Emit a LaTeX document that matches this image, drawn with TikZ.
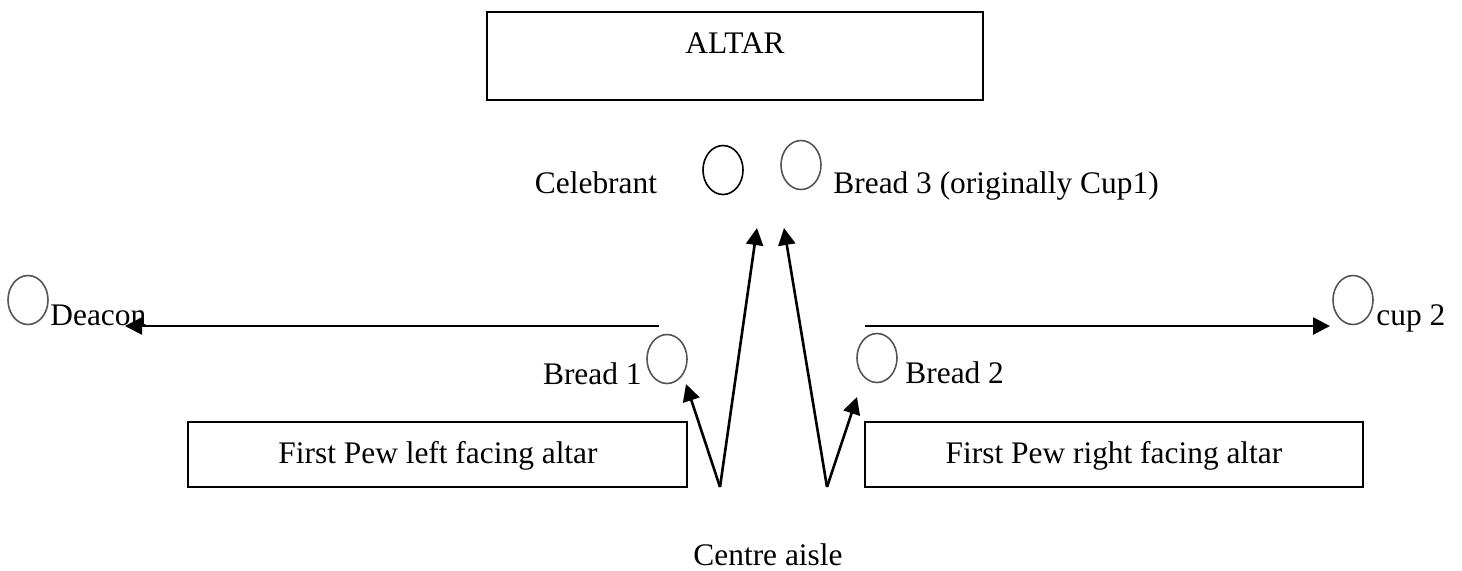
\documentclass[tikz,border=0pt]{standalone}
\usepackage{fontspec}
\setmainfont{Liberation Serif}
\usepackage{tikz}
\usetikzlibrary{arrows.meta,shapes.geometric}
\definecolor{ink}{HTML}{000000}
\definecolor{ring}{HTML}{555555}
\tikzset{
  box/.style={draw=ink, line width=1.1pt, inner sep=0pt},
  spot/.style={ellipse, draw=ring, line width=0.8pt, minimum width=20pt, minimum height=24.5pt, inner sep=0pt},
  lab/.style={text=ink, inner sep=0pt, font=\fontsize{15.7}{19}\selectfont},
  walk/.style={draw=ink, line width=1.3pt, -{Triangle[length=8.5pt,width=8.5pt]}}
}
\begin{document}
\begin{tikzpicture}[x=0.5pt,y=-0.5pt]
  \useasboundingbox (0,0) rectangle (1462,570);
  % altar
  \node[box, minimum width=248pt, minimum height=44pt] (altar) at (735,56) {};
  \node[lab, anchor=base] (altartxt) at (735,53) {ALTAR};
  % people at the front
  \node[spot, draw=ink] (celebrant) at (723,170) {};
  \node[lab, anchor=base] (celebranttxt) at (596,193) {Celebrant};
  \node[spot] (bread3) at (801,165) {};
  \node[lab, anchor=base west] (bread3txt) at (833,193) {Bread 3 (originally Cup1)};
  \node[spot] (deacon) at (28,300) {};
  \node[lab, anchor=base west] (deacontxt) at (50,325) {Deacon};
  \node[spot] (cup2) at (1353,300) {};
  \node[lab, anchor=base west] (cup2txt) at (1376,325) {cup 2};
  \node[spot] (bread1) at (667,359) {};
  \node[lab, anchor=base east] (bread1txt) at (642,384) {Bread 1};
  \node[spot] (bread2) at (877,358) {};
  \node[lab, anchor=base west] (bread2txt) at (905,383) {Bread 2};
  % pews
  \node[box, minimum width=249.5pt, minimum height=32.5pt] (pewleft) at (437.5,454.5) {};
  \node[lab, anchor=base] (pewlefttxt) at (438,463) {First Pew left facing altar};
  \node[box, minimum width=249pt, minimum height=32.5pt] (pewright) at (1114,454.5) {};
  \node[lab, anchor=base] (pewrighttxt) at (1114,463) {First Pew right facing altar};
  \node[lab, anchor=base] (aisle) at (768,565) {Centre aisle};
  % movement
  \coordinate (footL) at (720,487);
  \coordinate (footR) at (827,487);
  \coordinate (upL) at (757,228);
  \coordinate (upR) at (784,228);
  \coordinate (toB1) at (686,384);
  \coordinate (toB2) at (857,397);
  \coordinate (fromB1) at (659,326);
  \coordinate (toDeacon) at (125,326);
  \coordinate (fromB2) at (865,326);
  \coordinate (toCup2) at (1330,326);
  \draw[walk] (footL) -- (upL);
  \draw[walk] (footL) -- (toB1);
  \draw[walk] (footR) -- (upR);
  \draw[walk] (footR) -- (toB2);
  \draw[walk] (fromB1) -- (toDeacon);
  \draw[walk] (fromB2) -- (toCup2);
\end{tikzpicture}
\end{document}
